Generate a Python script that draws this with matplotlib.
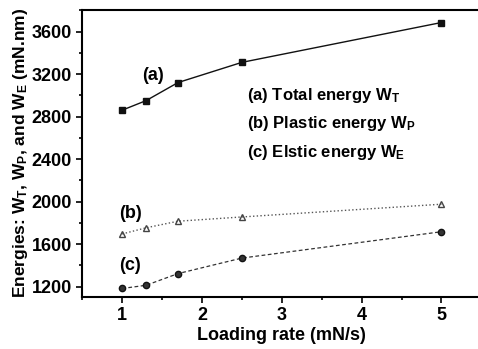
import matplotlib
matplotlib.use('Agg')
import matplotlib.pyplot as plt
from matplotlib.ticker import MultipleLocator

plt.rcParams['font.family'] = 'Liberation Sans'
plt.rcParams['font.weight'] = 'bold'
plt.rcParams['mathtext.fontset'] = 'custom'
plt.rcParams['mathtext.rm'] = 'Liberation Sans:bold'
plt.rcParams['mathtext.it'] = 'Liberation Sans:bold'
plt.rcParams['mathtext.bf'] = 'Liberation Sans:bold'

# Loading rate (mN/s) and energies (mN.nm)
rate = [1, 1.3, 1.7, 2.5, 5]
total_energy = [2860, 2950, 3120, 3310, 3685]
plastic_energy = [1695, 1753, 1815, 1855, 1975]
elastic_energy = [1182, 1212, 1322, 1468, 1716]

legend_lines = ['(a) Total energy W$_T$',
                '(b) Plastic energy W$_P$',
                '(c) Elstic energy W$_E$']

fig = plt.figure(figsize=(4.78, 3.49), dpi=100)
ax = fig.add_axes([0.172, 0.15, 0.835, 0.822])

ax.plot(rate, total_energy, '-', color='#111111', lw=1.0,
        marker='s', ms=5, mfc='#111111', mec='#111111')
ax.plot(rate, plastic_energy, ':', color='#555555', lw=1.0,
        marker='^', ms=4.5, mfc='none', mec='#444444')
ax.plot(rate, elastic_energy, '--', color='#333333', lw=0.9, dashes=(3, 2),
        marker='o', ms=4.5, mfc='#333333', mec='#111111')

ax.text(1.25, 3190, '(a)', fontsize=13, fontweight='bold', va='center')
ax.text(0.96, 1890, '(b)', fontsize=13, fontweight='bold', va='center')
ax.text(0.96, 1400, '(c)', fontsize=13, fontweight='bold', va='center')

for i, line in enumerate(legend_lines):
    ax.text(2.56, 3000 - i * 268, line, fontsize=12, fontweight='bold', va='center')

ax.set_xlim(0.5, 5.5)
ax.set_ylim(1105, 3805)
ax.xaxis.set_major_locator(MultipleLocator(1))
ax.xaxis.set_minor_locator(MultipleLocator(0.5))
ax.yaxis.set_major_locator(MultipleLocator(400))
ax.yaxis.set_minor_locator(MultipleLocator(200))
ax.tick_params(which='both', direction='out', width=1.2, labelsize=13)
ax.tick_params(which='major', length=4)
ax.tick_params(which='minor', length=2.5)
ax.tick_params(top=False, right=False)
for lab in ax.get_xticklabels() + ax.get_yticklabels():
    lab.set_fontweight('bold')
for sp in ax.spines.values():
    sp.set_linewidth(1.5)
ax.spines['right'].set_visible(False)

ax.set_xlabel('Loading rate (mN/s)', fontsize=13, fontweight='bold', labelpad=2)
ax.set_ylabel('Energies: W$_T$, W$_P$, and W$_E$ (mN.nm)', fontsize=12.5,
              fontweight='bold', labelpad=1)

fig.savefig('out.png', dpi=100)
